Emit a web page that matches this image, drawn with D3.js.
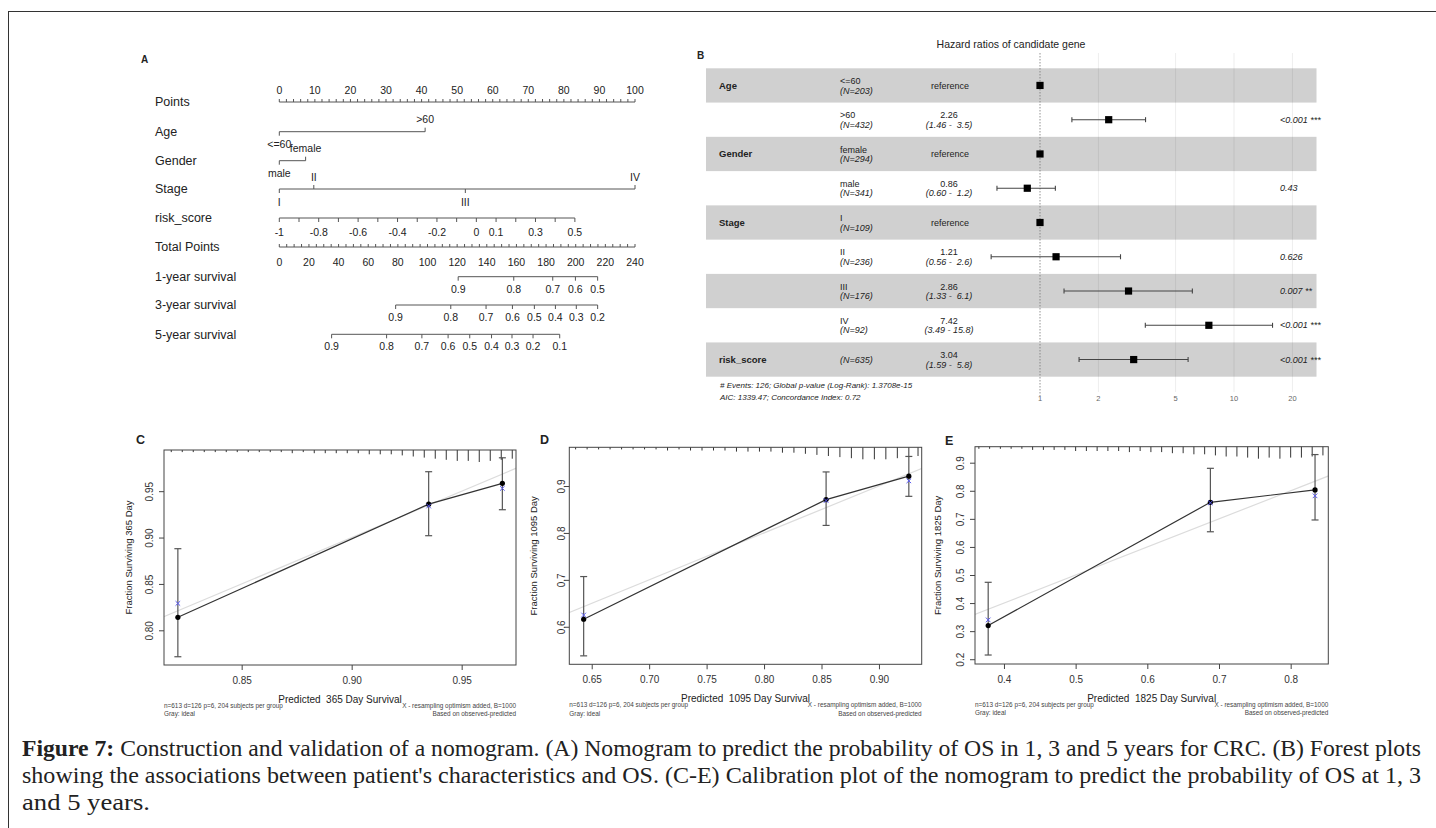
<!DOCTYPE html>
<html lang="en">
<head>
<meta charset="UTF-8" />
<title>Figure 7</title>
<script src="https://cdn.jsdelivr.net/npm/d3@7/dist/d3.min.js"></script>
<style>
  body { margin: 0; background: #fff; }
  svg { display: block; }
  text { font-family: "Liberation Sans", Arial, sans-serif; fill: #222; }
</style>
</head>
<body>
<svg id="chart" width="1436" height="828"></svg>
<script>
// ---------- data: nomogram (A) ----------
const pointLabels = [0, 10, 20, 30, 40, 50, 60, 70, 80, 90, 100];
const totalLabels = [0, 20, 40, 60, 80, 100, 120, 140, 160, 180, 200, 220, 240];
const ageLevels = ["<=60", ">60"];
const agePoints = [0, 41];
const genderLevels = ["male", "female"];
const genderPoints = [0, 7.4];
const stageLevels = ["I", "II", "III", "IV"];
const stagePoints = [0, 9.7, 52.3, 100];
const riskRange = [-1, 0.5];
const riskPointRange = [0, 83.1];
const riskLabels = [-1, -0.8, -0.6, -0.4, -0.2, 0, 0.1, 0.3, 0.5];
const surv1 = [0.9, 0.8, 0.7, 0.6, 0.5];
const surv1Total = [120.7, 158.2, 184.5, 199.8, 214.8];
const surv3 = [0.9, 0.8, 0.7, 0.6, 0.5, 0.4, 0.3, 0.2];
const surv3Total = [78.5, 115.7, 139.5, 157.3, 172.1, 186.3, 200.4, 214.8];
const surv5 = [0.9, 0.8, 0.7, 0.6, 0.5, 0.4, 0.3, 0.2, 0.1];
const surv5Total = [35.3, 72.4, 96.2, 113.9, 128.5, 143.2, 157.0, 171.2, 189.2];

// ---------- data: forest plot (B) ----------
const forestVars = ["Age", "", "Gender", "", "Stage", "", "", "", "risk_score"];
const forestLevels = ["<=60", ">60", "female", "male", "I", "II", "III", "IV", ""];
const forestN = [203, 432, 294, 341, 109, 236, 176, 92, 635];
const forestHR = [1, 2.26, 1, 0.86, 1, 1.21, 2.86, 7.42, 3.04];
const forestLo = [null, 1.46, null, 0.60, null, 0.56, 1.33, 3.49, 1.59];
const forestHi = [null, 3.5, null, 1.2, null, 2.6, 6.1, 15.8, 5.8];
const forestEst = ["reference", "2.26", "reference", "0.86", "reference", "1.21", "2.86", "7.42", "3.04"];
const forestCI = ["", "(1.46 -  3.5)", "", "(0.60 -  1.2)", "", "(0.56 -  2.6)", "(1.33 -  6.1)", "(3.49 - 15.8)", "(1.59 -  5.8)"];
const forestP = ["", "<0.001 ***", "", "0.43", "", "0.626", "0.007 **", "<0.001 ***", "<0.001 ***"];
const forestTicks = [1, 2, 5, 10, 20];

// ---------- data: calibration (C, D, E) ----------
const predC = [0.821, 0.935, 0.9685];
const obsC = [0.814, 0.936, 0.9585];
const corrC = [0.829, 0.934, 0.953];
const loC = [0.7715, 0.902, 0.930];
const hiC = [0.888, 0.971, 0.986];
const rugC = [[0.818,1],[0.823,1],[0.828,1],[0.833,1],[0.838,1],[0.843,1],[0.848,1],[0.853,1],
  [0.858,1],[0.863,1],[0.868,1],[0.873,2],[0.878,1],[0.883,2],[0.888,2],[0.893,2],[0.898,2],
  [0.903,2],[0.908,3],[0.913,3],[0.918,3],[0.923,4],[0.928,5],[0.933,6],[0.938,7],[0.943,8],
  [0.948,9],[0.953,9],[0.958,10],[0.963,9],[0.968,8],[0.973,7]];

const predD = [0.643, 0.854, 0.926];
const obsD = [0.616, 0.871, 0.921];
const corrD = [0.625, 0.869, 0.911];
const loD = [0.538, 0.816, 0.878];
const hiD = [0.707, 0.930, 0.963];
const rugD = [[0.636,1],[0.646,1],[0.656,1],[0.666,1],[0.676,1],[0.686,1],[0.696,1],[0.706,1],
  [0.716,2],[0.726,1],[0.736,2],[0.746,2],[0.756,2],[0.766,2],[0.776,3],[0.786,3],[0.796,3],
  [0.806,3],[0.816,4],[0.826,4],[0.836,5],[0.846,6],[0.856,7],[0.866,8],[0.876,9],[0.886,10],
  [0.896,10],[0.906,10],[0.916,9],[0.926,8],[0.934,7]];

const predE = [0.378, 0.688, 0.834];
const obsE = [0.320, 0.759, 0.803];
const corrE = [0.340, 0.757, 0.782];
const loE = [0.215, 0.654, 0.696];
const hiE = [0.474, 0.880, 0.929];
const rugE = [[0.365,1],[0.380,1],[0.395,1],[0.410,1],[0.425,1],[0.440,2],[0.455,2],[0.470,2],
  [0.485,2],[0.500,3],[0.515,3],[0.530,3],[0.545,3],[0.560,3],[0.575,4],[0.590,3],[0.605,4],
  [0.620,4],[0.635,5],[0.650,5],[0.665,6],[0.680,6],[0.695,7],[0.710,8],[0.725,8],[0.740,9],
  [0.755,10],[0.770,9],[0.785,10],[0.800,9],[0.815,9],[0.830,8],[0.845,7]];

const caption = [
  ["Figure 7:", " Construction and validation of a nomogram. (A) Nomogram to predict the probability of OS in 1, 3 and 5 years for CRC. (B) Forest plots"],
  ["", "showing the associations between patient's characteristics and OS. (C-E) Calibration plot of the nomogram to predict the probability of OS at 1, 3"],
  ["", "and 5 years."]
];
const captionWidths = [1399, 1399, 128];

const svg = d3.select("#chart");

// outer frame
svg.append("rect").attr("x", 8.5).attr("y", 11.5).attr("width", 1440).attr("height", 840)
  .attr("fill", "none").attr("stroke", "#333").attr("stroke-width", 1);

// ================= A: nomogram =================
const A = svg.append("g");
const xP = d3.scaleLinear().domain([0, 100]).range([279.3, 635]);
const xT = d3.scaleLinear().domain([0, 240]).range([279.3, 635]);
const xRisk = d3.scaleLinear().domain(riskRange).range(riskPointRange.map(xP));
const lineCol = "#555";

A.append("text").attr("x", 141).attr("y", 63).attr("font-size", 10).attr("font-weight", "bold").text("A");

const rows = [
  ["Points", 102], ["Age", 131.7], ["Gender", 160.7], ["Stage", 189], ["risk_score", 218],
  ["Total Points", 247], ["1-year survival", 276.7], ["3-year survival", 305], ["5-year survival", 334.3]
];
A.selectAll("text.rowlab").data(rows).join("text").attr("class", "rowlab")
  .attr("x", 155).attr("y", d => d[1]).attr("dy", "0.35em").attr("font-size", 12.5)
  .text(d => d[0]);

function hline(x1, x2, y) {
  A.append("line").attr("x1", x1).attr("x2", x2).attr("y1", y).attr("y2", y)
    .attr("stroke", lineCol).attr("stroke-width", 1);
}
function ticks(xs, y, len) {
  A.append("g").selectAll("line").data(xs).join("line")
    .attr("x1", d => d).attr("x2", d => d).attr("y1", y).attr("y2", y + len)
    .attr("stroke", lineCol).attr("stroke-width", 1);
}
function labels(items, y, size) {
  A.append("g").selectAll("text").data(items).join("text")
    .attr("x", d => d[0]).attr("y", y).attr("dy", "0.35em").attr("text-anchor", "middle")
    .attr("font-size", size).text(d => d[1]);
}

// Points
hline(xP(0), xP(100), 102);
ticks(d3.range(0, 101, 2).map(xP), 102, -3);
labels(pointLabels.map(v => [xP(v), v]), 90, 10.5);

// categorical rows: label above when side = -1, below when side = 1
function catRow(levels, pts, sides, y) {
  hline(xP(d3.min(pts)), xP(d3.max(pts)), y);
  levels.forEach((lv, i) => {
    const x = xP(pts[i]);
    ticks([x], y, 4 * sides[i]);
    labels([[x, lv]], y + (sides[i] < 0 ? -12 : 13), 10.5);
  });
}
catRow(ageLevels, agePoints, [1, -1], 131.7);
catRow(genderLevels, genderPoints, [1, -1], 160.7);
catRow(stageLevels, stagePoints, [1, -1, 1, -1], 189);

// risk_score
hline(xRisk(riskRange[0]), xRisk(riskRange[1]), 218);
ticks(d3.range(16).map(i => xRisk(-1 + i / 10)), 218, 4);
labels(riskLabels.map(v => [xRisk(v), v]), 232, 10.5);

// Total points
hline(xT(0), xT(240), 247);
ticks(d3.range(0, 241, 5).map(xT), 247, -3);
labels(totalLabels.map(v => [xT(v), v]), 262, 10.5);

// survival rows
[[surv1, surv1Total, 276.7], [surv3, surv3Total, 305], [surv5, surv5Total, 334.3]].forEach(([p, t, y]) => {
  hline(xT(d3.min(t)), xT(d3.max(t)), y);
  ticks(t.map(xT), y, 4);
  labels(p.map((v, i) => [xT(t[i]), v]), y + 12.5, 10.5);
});

// ================= B: forest plot =================
const F = svg.append("g");
const fy = d3.scaleBand().domain(d3.range(forestVars.length)).range([68.3, 376.7]);
const fx = d3.scaleLog().domain([1, 10]).range([1040, 1234]);
const cy = i => fy(i) + fy.bandwidth() / 2;

F.append("text").attr("x", 697).attr("y", 59).attr("font-size", 10).attr("font-weight", "bold").text("B");
F.append("text").attr("x", 1011).attr("y", 48).attr("text-anchor", "middle").attr("font-size", 10.5)
  .text("Hazard ratios of candidate gene");

F.selectAll("rect.band").data(d3.range(forestVars.length).filter(i => i % 2 === 0)).join("rect")
  .attr("class", "band").attr("x", 706).attr("width", 1316.5 - 706)
  .attr("y", i => fy(i)).attr("height", fy.bandwidth()).attr("fill", "#d0d0d0");

F.selectAll("line.grid").data(forestTicks.slice(1)).join("line").attr("class", "grid")
  .attr("x1", d => fx(d)).attr("x2", d => fx(d)).attr("y1", 53).attr("y2", 392)
  .attr("stroke", "#000").attr("stroke-opacity", 0.07).attr("stroke-width", 1);
F.append("line").attr("x1", fx(1)).attr("x2", fx(1)).attr("y1", 53).attr("y2", 396)
  .attr("stroke", "#777").attr("stroke-width", 0.8).attr("stroke-dasharray", "1.5,1.5");

F.selectAll("text.ftick").data(forestTicks).join("text").attr("class", "ftick")
  .attr("x", d => fx(d)).attr("y", 401).attr("text-anchor", "middle").attr("font-size", 7.5)
  .style("fill", "#666").text(d => d);

forestVars.forEach((v, i) => {
  const y = cy(i);
  if (v) F.append("text").attr("x", 719).attr("y", y).attr("dy", "0.35em").attr("font-size", 9.5)
    .attr("font-weight", "bold").text(v);
  if (forestLevels[i]) F.append("text").attr("x", 840).attr("y", y - 4.5).attr("dy", "0.35em")
    .attr("font-size", 9).text(forestLevels[i]);
  F.append("text").attr("x", 840).attr("y", forestLevels[i] ? y + 5 : y).attr("dy", "0.35em")
    .attr("font-size", 9).attr("font-style", "italic").text(`(N=${forestN[i]})`);
  if (forestCI[i]) {
    F.append("text").attr("x", 949).attr("y", y - 4.5).attr("dy", "0.35em").attr("text-anchor", "middle")
      .attr("font-size", 9).text(forestEst[i]);
    F.append("text").attr("x", 949).attr("y", y + 5).attr("dy", "0.35em").attr("text-anchor", "middle")
      .attr("font-size", 9).attr("font-style", "italic").style("white-space", "pre").text(forestCI[i]);
  } else {
    F.append("text").attr("x", 950).attr("y", y).attr("dy", "0.35em").attr("text-anchor", "middle")
      .attr("font-size", 9).text(forestEst[i]);
  }
  if (forestLo[i] != null) {
    const x1 = fx(forestLo[i]), x2 = fx(forestHi[i]);
    F.append("line").attr("x1", x1).attr("x2", x2).attr("y1", y).attr("y2", y)
      .attr("stroke", "#444").attr("stroke-width", 1.1);
    [x1, x2].forEach(x => F.append("line").attr("x1", x).attr("x2", x).attr("y1", y - 2.5).attr("y2", y + 2.5)
      .attr("stroke", "#444").attr("stroke-width", 1.1));
  }
  F.append("rect").attr("x", fx(forestHR[i]) - 3.6).attr("y", y - 3.6).attr("width", 7.2).attr("height", 7.2)
    .attr("fill", "#000");
  if (forestP[i]) F.append("text").attr("x", 1280).attr("y", y).attr("dy", "0.35em").attr("font-size", 9)
    .attr("font-style", "italic").text(forestP[i]);
});
F.append("text").attr("x", 720).attr("y", 385).attr("dy", "0.35em").attr("font-size", 8)
  .attr("font-style", "italic").text("# Events: 126; Global p-value (Log-Rank): 1.3708e-15");
F.append("text").attr("x", 720).attr("y", 397).attr("dy", "0.35em").attr("font-size", 8)
  .attr("font-style", "italic").text("AIC: 1339.47; Concordance Index: 0.72");

// ================= C, D, E: calibration =================
function calPanel(p) {
  const g = svg.append("g");
  const x = d3.scaleLinear().domain(p.xd).range([p.box[0], p.box[1]]);
  const y = d3.scaleLinear().domain(p.yd).range([p.box[3], p.box[2]]);
  const [L, R, T, B] = p.box;
  const clipId = "clip" + p.name;
  g.append("clipPath").attr("id", clipId).append("rect").attr("x", L).attr("y", T).attr("width", R - L).attr("height", B - T);

  g.append("text").attr("x", p.lab[0]).attr("y", p.lab[1]).attr("font-size", 12.5).attr("font-weight", "bold").text(p.name);

  // ideal line (y = x)
  const lo = Math.min(p.xd[0], p.yd[0]), hi = Math.max(p.xd[1], p.yd[1]);
  g.append("line").attr("clip-path", `url(#${clipId})`)
    .attr("x1", x(lo)).attr("y1", y(lo)).attr("x2", x(hi)).attr("y2", y(hi))
    .attr("stroke", "#dcdcdc").attr("stroke-width", 1.2);

  // rug of predicted values along top
  const rl = d3.scaleLinear().domain([0, 10]).range([0, 11]);
  g.append("g").selectAll("line").data(p.rug).join("line")
    .attr("x1", d => x(d[0])).attr("x2", d => x(d[0])).attr("y1", T).attr("y2", d => T + rl(d[1]) + 1)
    .attr("stroke", "#333").attr("stroke-width", 1);

  // axes
  const xa = g.append("g").attr("transform", `translate(0,${B})`)
    .call(d3.axisBottom(x).tickValues(p.xt).tickFormat(d3.format(p.xf)).tickSize(5).tickPadding(7));
  const ya = g.append("g").attr("transform", `translate(${L},0)`)
    .call(d3.axisLeft(y).tickValues(p.yt).tickFormat(d3.format(p.yf)).tickSize(5));
  [xa, ya].forEach(a => {
    a.select(".domain").remove();
    a.selectAll("line").attr("stroke", "#444");
    a.selectAll("text").attr("font-size", 10).style("fill", "#333").attr("font-family", '"Liberation Sans", Arial, sans-serif');
  });
  // y tick labels rotated, like R's default las = 0
  ya.selectAll("text").attr("text-anchor", "middle").attr("x", 0).attr("y", 0).attr("dy", "0.35em")
    .attr("transform", `translate(${p.ytx - L},0) rotate(-90)`);

  g.append("rect").attr("x", L).attr("y", T).attr("width", R - L).attr("height", B - T)
    .attr("fill", "none").attr("stroke", "#444").attr("stroke-width", 1);

  // error bars
  p.pred.forEach((pv, i) => {
    const xx = x(pv);
    g.append("line").attr("x1", xx).attr("x2", xx).attr("y1", y(p.lo[i])).attr("y2", y(p.hi[i]))
      .attr("stroke", "#555").attr("stroke-width", 1.2);
    [p.lo[i], p.hi[i]].forEach(v => g.append("line").attr("x1", xx - 3.5).attr("x2", xx + 3.5)
      .attr("y1", y(v)).attr("y2", y(v)).attr("stroke", "#555").attr("stroke-width", 1.2));
  });
  // observed line + dots
  g.append("path").datum(p.pred.map((pv, i) => [pv, p.obs[i]]))
    .attr("d", d3.line().x(d => x(d[0])).y(d => y(d[1])))
    .attr("fill", "none").attr("stroke", "#333").attr("stroke-width", 1.2);
  g.append("g").selectAll("circle").data(p.pred).join("circle")
    .attr("cx", d => x(d)).attr("cy", (d, i) => y(p.obs[i])).attr("r", 2.6).attr("fill", "#000");
  // bias-corrected x marks
  g.append("g").selectAll("path").data(p.pred).join("path")
    .attr("d", (d, i) => {
      const cx = x(d), cyv = y(p.corr[i]), s = 2.3;
      return `M${cx - s},${cyv - s}L${cx + s},${cyv + s}M${cx - s},${cyv + s}L${cx + s},${cyv - s}`;
    })
    .attr("stroke", "#5a5af0").attr("stroke-width", 1);

  // titles
  g.append("text").attr("x", (L + R) / 2).attr("y", B + 38).attr("text-anchor", "middle").attr("font-size", 10)
    .style("white-space", "pre").text(`Predicted  ${p.days} Day Survival`);
  g.append("text").attr("transform", `translate(${p.ylx},${(T + B) / 2}) rotate(-90)`).attr("text-anchor", "middle")
    .attr("dy", "0.35em").attr("font-size", 9.5).text(`Fraction Surviving ${p.days} Day`);
  const sub = (xx, yy, anchor, s) => g.append("text").attr("x", xx).attr("y", yy).attr("dy", "0.35em")
    .attr("text-anchor", anchor).attr("font-size", 6.4).style("fill", "#444").text(s);
  sub(L, B + 40.5, "start", "n=613 d=126 p=6, 204 subjects per group");
  sub(L, B + 49, "start", "Gray: ideal");
  sub(R, B + 40.5, "end", "X - resampling optimism added, B=1000");
  sub(R, B + 49, "end", "Based on observed-predicted");
}

calPanel({ name: "C", days: 365, box: [164, 516, 450, 665], lab: [136, 444],
  xd: [0.8147, 0.9747], yd: [0.7626, 0.9944], xt: [0.85, 0.90, 0.95], yt: [0.80, 0.85, 0.90, 0.95],
  xf: ".2f", yf: ".2f", ytx: 149, ylx: 129,
  pred: predC, obs: obsC, corr: corrC, lo: loC, hi: hiC, rug: rugC });
calPanel({ name: "D", days: 1095, box: [569.3, 921.7, 447.3, 664.3], lab: [540, 444],
  xd: [0.6305, 0.9372], yd: [0.52, 0.9825], xt: [0.65, 0.70, 0.75, 0.80, 0.85, 0.90], yt: [0.6, 0.7, 0.8, 0.9],
  xf: ".2f", yf: ".1f", ytx: 561.5, ylx: 534,
  pred: predD, obs: obsD, corr: corrD, lo: loD, hi: hiD, rug: rugD });
calPanel({ name: "E", days: 1825, box: [975, 1328.3, 446.7, 664], lab: [945, 445],
  xd: [0.3596, 0.8525], yd: [0.183, 0.957], xt: [0.4, 0.5, 0.6, 0.7, 0.8], yt: [0.2, 0.3, 0.4, 0.5, 0.6, 0.7, 0.8, 0.9],
  xf: ".1f", yf: ".1f", ytx: 960, ylx: 937.5,
  pred: predE, obs: obsE, corr: corrE, lo: loE, hi: hiE, rug: rugE });

// ================= caption =================
const cap = svg.append("g");
caption.forEach((ln, i) => {
  const t = cap.append("text").attr("x", 22).attr("y", 756 + i * 27)
    .style("font-family", '"Liberation Serif", "DejaVu Serif", serif').attr("font-size", 23).style("fill", "#222");
  if (ln[0]) t.append("tspan").attr("font-weight", "bold").text(ln[0]);
  t.append("tspan").text(ln[1]);
  t.attr("textLength", captionWidths[i]).attr("lengthAdjust", "spacingAndGlyphs");
});
</script>
</body>
</html>
